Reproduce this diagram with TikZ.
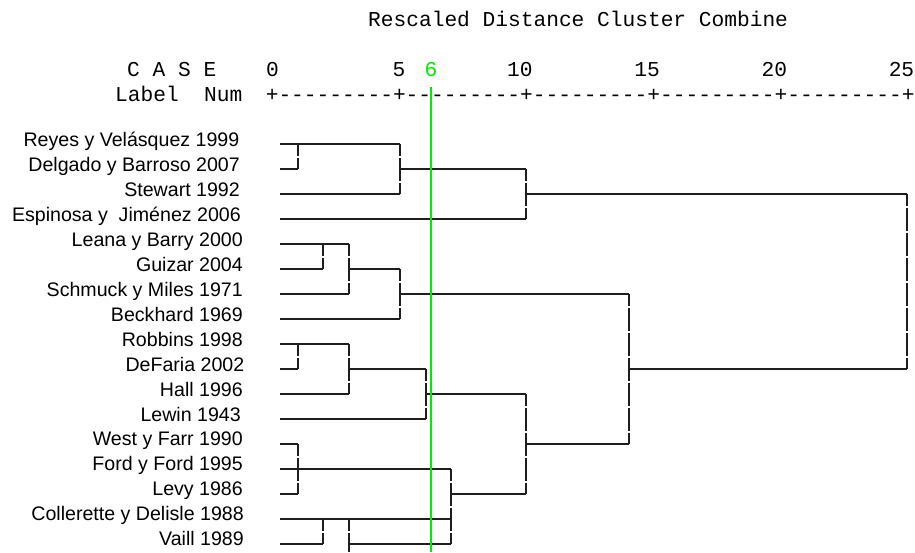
\documentclass[tikz,border=0pt]{standalone}
\usepackage{fontspec}
\setmainfont{Liberation Sans}
\newfontfamily\monof{Liberation Mono}
\definecolor{cutgreen}{RGB}{0,235,0}
\definecolor{dendro}{RGB}{30,30,30}
\begin{document}
\begin{tikzpicture}[x=1pt,y=-1pt,
  lab/.style={anchor=base east,inner sep=0pt,font=\fontsize{19.6}{22}\selectfont},
  mono/.style={inner sep=0pt,font=\monof\fontsize{21.2}{24}\selectfont},
  hl/.style={draw=dendro,line width=1.3pt},
  vl/.style={draw=dendro,line width=1.3pt,dash pattern=on 23pt off 2pt,dash phase=11.5pt},
  cut/.style={draw=cutgreen,line width=1.5pt}]
\useasboundingbox (0,0) rectangle (915,552);
\fill[white] (0,0) rectangle (915,552);
% header
\node[mono,anchor=base west] (title) at (368,26) {Rescaled Distance Cluster Combine};
\node[mono,anchor=base west] (case) at (127,76) {C A S E};
\node[mono,anchor=base west] (labnum) at (115,101) {Label\ \ Num};
\node[mono,anchor=base west] (axis) at (265.6,101) {+---------+---------+---------+---------+---------+};
\node[mono,anchor=base east] (t0) at (279,76) {0};
\node[mono,anchor=base east] (t5) at (405.6,76) {5};
\node[mono,anchor=base,text=cutgreen] (t6) at (431,76) {6};
\node[mono,anchor=base east] (t10) at (532.8,76) {10};
\node[mono,anchor=base east] (t15) at (660,76) {15};
\node[mono,anchor=base east] (t20) at (787.2,76) {20};
\node[mono,anchor=base east] (t25) at (914.4,76) {25};
% labels
\node[lab] (c1) at (239.5,146) {Reyes y Velásquez 1999};
\node[lab] (c2) at (240,171) {Delgado y Barroso 2007};
\node[lab] (c3) at (240,196) {Stewart 1992};
\node[lab] (c4) at (241,221) {Espinosa y\ \ Jiménez 2006};
\node[lab] (c5) at (243,246) {Leana y Barry 2000};
\node[lab] (c6) at (243,271) {Guizar 2004};
\node[lab] (c7) at (243,296) {Schmuck y Miles 1971};
\node[lab] (c8) at (243,321) {Beckhard 1969};
\node[lab] (c9) at (243,346) {Robbins 1998};
\node[lab] (c10) at (244.5,371) {DeFaria 2002};
\node[lab] (c11) at (243,396) {Hall 1996};
\node[lab] (c12) at (241,421) {Lewin 1943};
\node[lab] (c13) at (243,445) {West y Farr 1990};
\node[lab] (c14) at (243,470) {Ford y Ford 1995};
\node[lab] (c15) at (243,495) {Levy 1986};
\node[lab] (c16) at (244,520) {Collerette y Delisle 1988};
\node[lab] (c17) at (244,545) {Vaill 1989};
% horizontal lines
\draw[hl] (280,144) -- (400,144);
\draw[hl] (280,169) -- (298,169);
\draw[hl] (280,194) -- (400,194);
\draw[hl] (400,169) -- (526,169);
\draw[hl] (280,219) -- (526,219);
\draw[hl] (526,194) -- (907,194);
\draw[hl] (280,244) -- (349,244);
\draw[hl] (280,269) -- (323,269);
\draw[hl] (280,294) -- (349,294);
\draw[hl] (349,269) -- (400,269);
\draw[hl] (280,319) -- (400,319);
\draw[hl] (400,294) -- (629,294);
\draw[hl] (280,344) -- (349,344);
\draw[hl] (280,369) -- (298,369);
\draw[hl] (280,394) -- (349,394);
\draw[hl] (349,369) -- (426,369);
\draw[hl] (280,419) -- (426,419);
\draw[hl] (426,394) -- (526,394);
\draw[hl] (280,444) -- (298,444);
\draw[hl] (280,469) -- (451,469);
\draw[hl] (280,494) -- (298,494);
\draw[hl] (280,519) -- (451,519);
\draw[hl] (280,544) -- (323,544);
\draw[hl] (349,544) -- (451,544);
\draw[hl] (451,494) -- (526,494);
\draw[hl] (526,444) -- (629,444);
\draw[hl] (629,369) -- (907,369);
% vertical lines
\draw[vl] (298,144) -- (298,169);
\draw[vl] (400,144) -- (400,194);
\draw[vl] (526,169) -- (526,219);
\draw[vl] (907,194) -- (907,369);
\draw[vl] (323,244) -- (323,269);
\draw[vl] (349,244) -- (349,294);
\draw[vl] (400,269) -- (400,319);
\draw[vl] (629,294) -- (629,444);
\draw[vl] (298,344) -- (298,369);
\draw[vl] (349,344) -- (349,394);
\draw[vl] (426,369) -- (426,419);
\draw[vl] (526,394) -- (526,494);
\draw[vl] (298,444) -- (298,494);
\draw[vl] (451,469) -- (451,544);
\draw[vl] (323,519) -- (323,544);
\draw[vl] (349,519) -- (349,552);
% cut line
\draw[cut] (431,87) -- (431,552);
\end{tikzpicture}
\end{document}
